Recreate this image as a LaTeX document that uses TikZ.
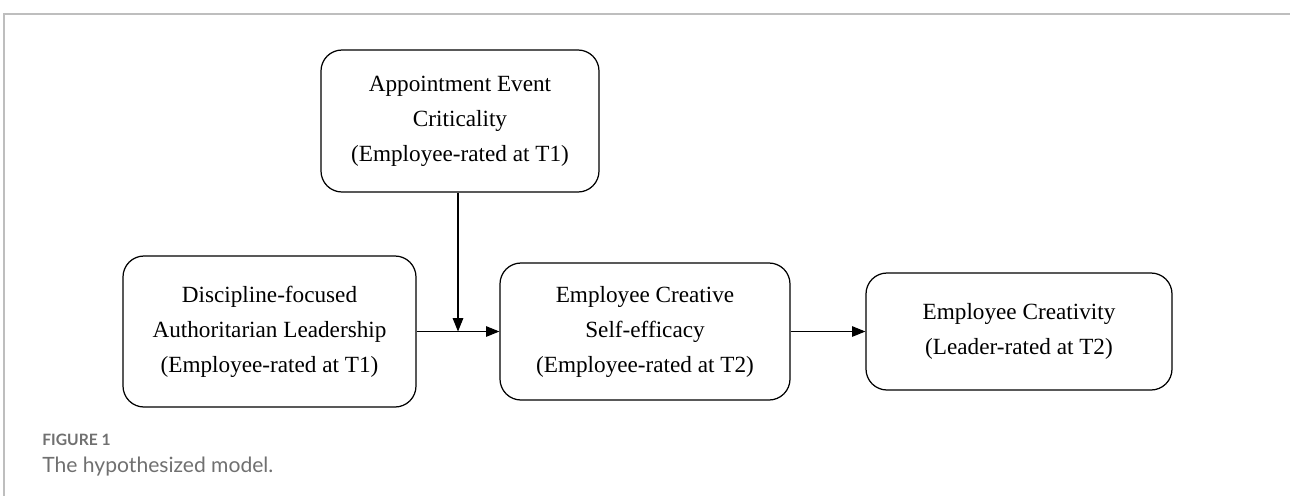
\documentclass[tikz,border=0pt]{standalone}
\usepackage{fontspec}
\setmainfont{Liberation Serif}
\newfontfamily\capfont{Lato}
\usetikzlibrary{arrows.meta}
\definecolor{framegray}{RGB}{190,190,190}
\definecolor{capgray}{RGB}{112,112,112}
\tikzset{
	varbox/.style={draw, line width=0.7pt, rounded corners=0.42cm, align=center,
		font=\fontsize{13.2}{19.9}\selectfont, inner sep=0pt},
	path/.style={line width=0.6pt, -{Triangle[length=7.6pt,width=6pt]}}
}
\begin{document}
\begin{tikzpicture}
	% page size
	\useasboundingbox (0,0) rectangle (25.8,-9.92);
	% frame
	\draw[framegray, line width=0.8pt] (25.8,-0.28) -- (0.08,-0.28) -- (0.08,-9.92);

	% variables
	\node[varbox, minimum width=5.56cm, minimum height=2.84cm] (aec) at (9.2,-2.42)
		{Appointment Event\\Criticality\\(Employee-rated at T1)};
	\node[varbox, minimum width=5.86cm, minimum height=3.02cm] (dal) at (5.39,-6.63)
		{Discipline-focused\\Authoritarian Leadership\\(Employee-rated at T1)};
	\node[varbox, minimum width=5.8cm, minimum height=2.74cm] (ecse) at (12.9,-6.63)
		{Employee Creative\\Self-efficacy\\(Employee-rated at T2)};
	\node[varbox, minimum width=6.12cm, minimum height=2.34cm] (ec) at (20.38,-6.63)
		{Employee Creativity\\(Leader-rated at T2)};

	% paths
	\coordinate (meet) at ([xshift=-0.04cm]aec.south |- dal.east);
	\draw[path] (dal.east) -- (ecse.west);
	\draw[path] ([xshift=-0.04cm]aec.south) -- (meet);
	\draw[path] (ecse.east) -- (ec.west);

	% caption
	\node[anchor=base west, inner sep=0pt, text=capgray, font=\capfont\bfseries\fontsize{8.9}{10}\selectfont] (fig) at (0.84,-8.9) {FIGURE 1};
	\node[anchor=base west, inner sep=0pt, text=capgray, font=\capfont\fontsize{12}{14}\selectfont] (cap) at (0.84,-9.44) {The hypothesized model.};
\end{tikzpicture}
\end{document}
